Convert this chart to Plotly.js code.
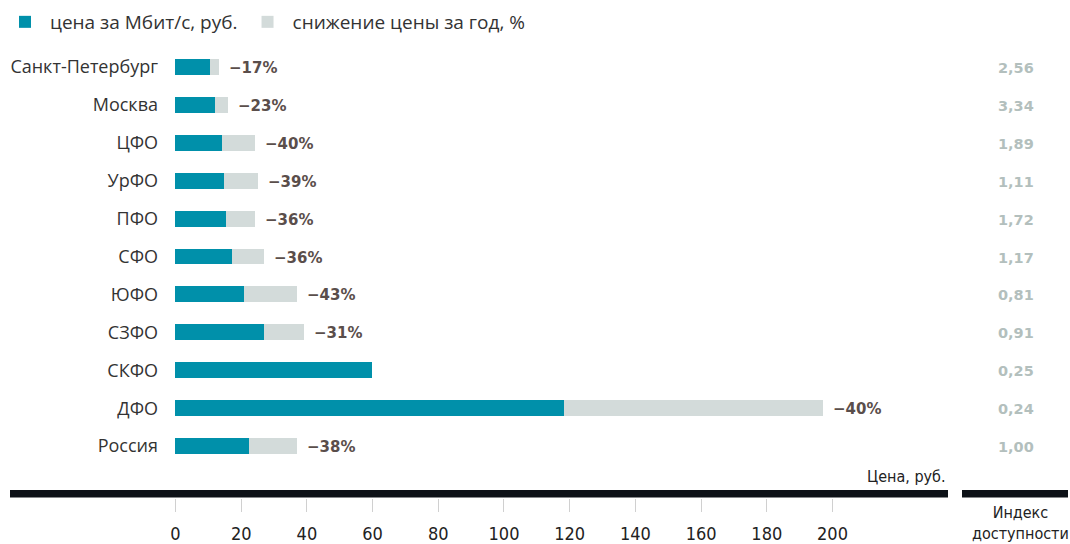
<!DOCTYPE html>
<html>
<head>
<meta charset="utf-8">
<script src="https://cdn.plot.ly/plotly-3.0.1.min.js"></script>
<style>html,body{margin:0;padding:0;background:#fff;}#chart{width:1070px;height:544px;}</style>
</head>
<body>
<div id="chart"></div>
<script>
// Data
const regions = ["Санкт-Петербург","Москва","ЦФО","УрФО","ПФО","СФО","ЮФО","СЗФО","СКФО","ДФО","Россия"];
const price = [10.4, 12.0, 14.1, 14.9, 15.3, 17.1, 20.8, 27.0, 59.9, 118.4, 22.5];       // цена за Мбит/с, руб.
const prevPrice = [13.2, 16.1, 24.2, 25.0, 24.2, 27.0, 37.1, 39.0, null, 197.1, 36.9];   // price a year earlier
const declineLabels = ["−17%","−23%","−40%","−39%","−36%","−36%","−43%","−31%","","−40%","−38%"];
const accessIndex = ["2,56","3,34","1,89","1,11","1,72","1,17","0,81","0,91","0,25","0,24","1,00"];
const xTicks = [0,20,40,60,80,100,120,140,160,180,200];

const TEAL = "#0090aa", GREY = "#d3dbda";
const greyPart = price.map((p,i) => prevPrice[i] == null ? 0 : prevPrice[i] - p);

const traces = [
  {type:"bar", orientation:"h", name:"цена за Мбит/с, руб.", y:regions, x:price,
   marker:{color:TEAL}, hoverinfo:"x+y"},
  {type:"bar", orientation:"h", name:"снижение цены за год, %", y:regions, x:greyPart,
   marker:{color:GREY}, hoverinfo:"skip"}
];

const annotations = [];
regions.forEach((r,i) => {
  if (declineLabels[i]) {
    annotations.push({x:prevPrice[i], y:r, xref:"x", yref:"y", text:declineLabels[i],
      showarrow:false, xanchor:"left", xshift:8, yshift:-1,
      font:{family:"'DejaVu Sans', sans-serif", size:15, color:"#5a4e4b", weight:700}});
  }
  annotations.push({x:(1016-175)/895, y:r, xref:"paper", yref:"y", text:accessIndex[i],
    showarrow:false, xanchor:"center", yshift:-1,
    font:{family:"'DejaVu Sans', sans-serif", size:14.5, color:"#b3bfbd", weight:700}});
});
annotations.push({x:(948-175)/895, y:(498-476)/458, xref:"paper", yref:"paper", text:"Цена, руб.",
  showarrow:false, xanchor:"right", yanchor:"middle",
  font:{family:"'Liberation Sans Narrow', 'DejaVu Sans Condensed', sans-serif", size:16, color:"#222"}});
annotations.push({x:(1020-175)/895, y:(498-523)/458, xref:"paper", yref:"paper", text:"Индекс<br>доступности",
  showarrow:false, xanchor:"center", yanchor:"middle",
  font:{family:"'Liberation Sans Narrow', 'DejaVu Sans Condensed', sans-serif", size:16, color:"#222"}});

const shapes = [
  {type:"rect", xref:"paper", yref:"paper", x0:(10-175)/895, x1:(948-175)/895,
   y0:(498-497.5)/458, y1:(498-490)/458, fillcolor:"#0d1117", line:{width:0}},
  {type:"rect", xref:"paper", yref:"paper", x0:(962-175)/895, x1:(1068-175)/895,
   y0:(498-497.5)/458, y1:(498-490)/458, fillcolor:"#0d1117", line:{width:0}}
];

const layout = {
  width:1070, height:544,
  margin:{l:175, r:0, t:40, b:46},
  paper_bgcolor:"#fff", plot_bgcolor:"#fff",
  barmode:"stack", bargap:0.58,
  showlegend:true,
  legend:{orientation:"h", xref:"container", yref:"container", x:0, y:0.9945, xanchor:"left", yanchor:"top",
    itemwidth:40,
    font:{family:"'Open Sans', sans-serif", size:19, color:"#333"}, traceorder:"normal"},
  xaxis:{range:[-0.15, 272.3], tickvals:xTicks, ticktext:xTicks.map(String),
    showgrid:false, zeroline:false, showline:false, ticks:"outside", ticklen:13, tickcolor:"#d0d0d0", tickwidth:1,
    ticklabelstandoff:6,
    tickfont:{family:"'Liberation Sans Narrow', 'DejaVu Sans Condensed', sans-serif", size:18, color:"#222"}, fixedrange:true},
  yaxis:{type:"category", categoryorder:"array", categoryarray:regions, range:[11.368, -0.684],
    showgrid:false, zeroline:false, showline:false, ticks:"", ticklabelstandoff:16,
    tickfont:{family:"'Open Sans', sans-serif", size:18, color:"#333"}, fixedrange:true},
  annotations:annotations, shapes:shapes
};

Plotly.newPlot("chart", traces, layout, {displayModeBar:false, staticPlot:true});
</script>
</body>
</html>
